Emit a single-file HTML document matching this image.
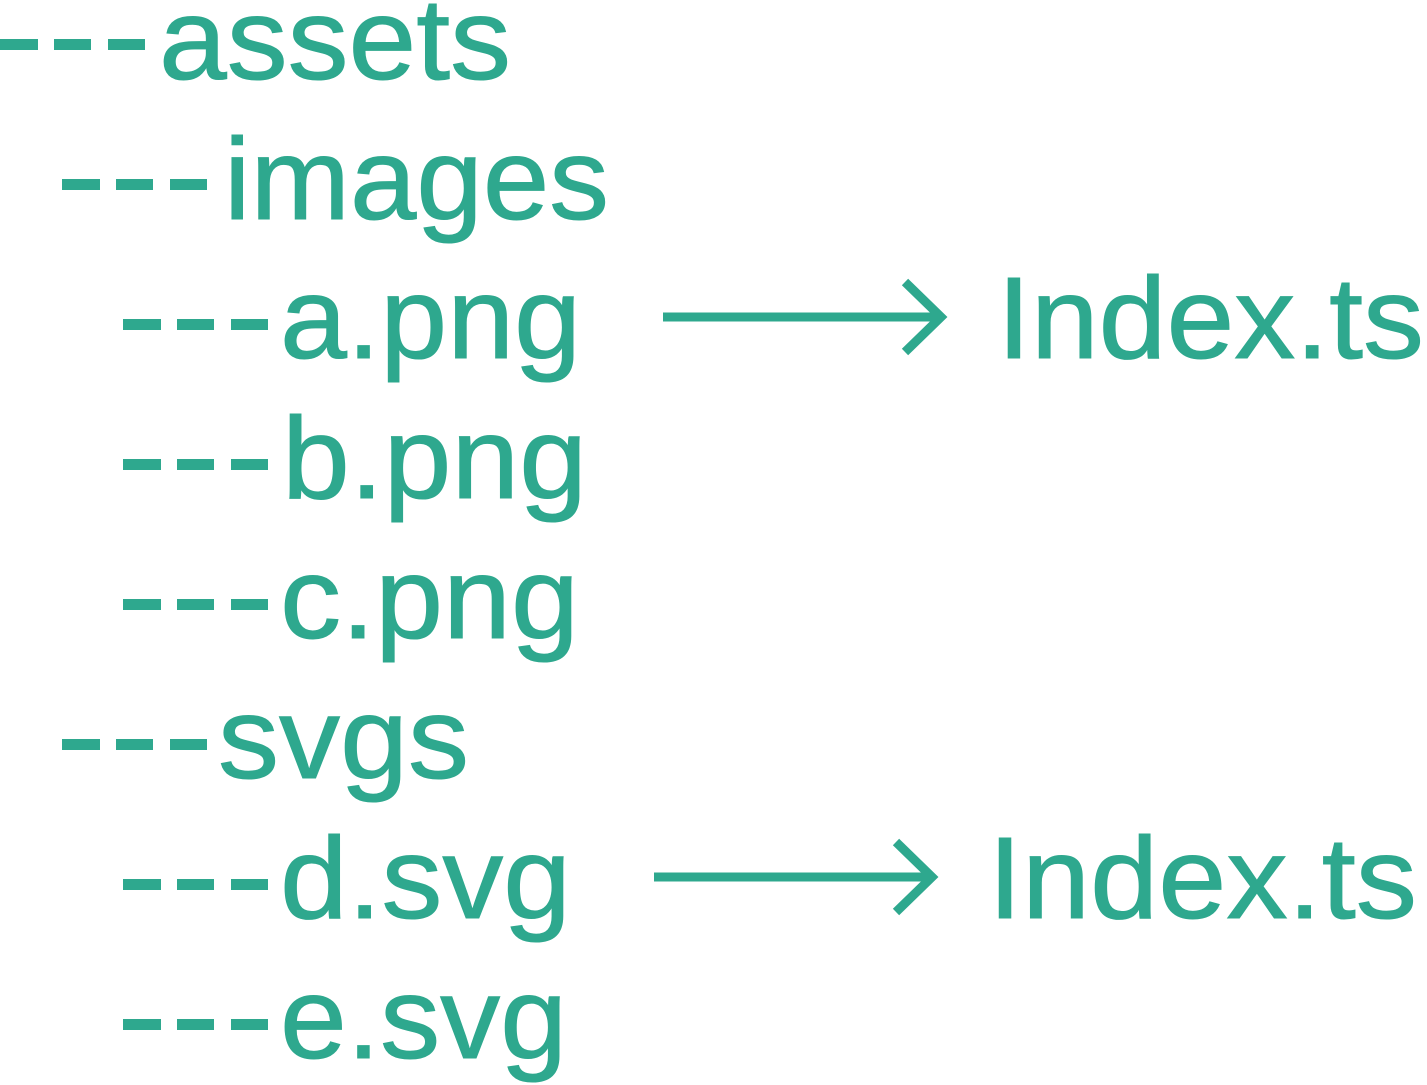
<!DOCTYPE html>
<html><head><meta charset="utf-8"><style>
html,body{margin:0;padding:0;background:#fff;}
svg{display:block}
text{font-family:"Liberation Sans",sans-serif;font-size:116px;fill:#2ea88e;stroke:#2ea88e;stroke-width:1px}
</style></head><body>
<svg width="1427" height="1085" viewBox="0 0 1427 1085" xmlns="http://www.w3.org/2000/svg">
<g fill="#2ea88e">
<rect x="0" y="39" width="38" height="11"/><rect x="54" y="39" width="37" height="11"/><rect x="108" y="39" width="37" height="11"/>
<rect x="62" y="179" width="38" height="11"/><rect x="116" y="179" width="37" height="11"/><rect x="170" y="179" width="37" height="11"/>
<rect x="62" y="739" width="38" height="11"/><rect x="116" y="739" width="37" height="11"/><rect x="170" y="739" width="37" height="11"/>
<g id="d2"><rect x="123" y="319" width="38" height="11"/><rect x="177" y="319" width="37" height="11"/><rect x="231" y="319" width="37" height="11"/></g>
<use href="#d2" y="140"/><use href="#d2" y="280"/><use href="#d2" y="560"/><use href="#d2" y="700"/>
</g>
<text x="159" y="79" textLength="352" lengthAdjust="spacingAndGlyphs">assets</text>
<text x="224" y="219" textLength="385" lengthAdjust="spacingAndGlyphs">images</text>
<text x="280" y="358" textLength="301" lengthAdjust="spacingAndGlyphs">a.png</text>
<text x="282" y="498" textLength="305" lengthAdjust="spacingAndGlyphs">b.png</text>
<text x="280" y="638" textLength="299" lengthAdjust="spacingAndGlyphs">c.png</text>
<text x="218" y="778" textLength="251" lengthAdjust="spacingAndGlyphs">svgs</text>
<text x="280" y="918" textLength="291" lengthAdjust="spacingAndGlyphs">d.svg</text>
<text x="280" y="1058" textLength="287" lengthAdjust="spacingAndGlyphs">e.svg</text>
<text x="997" y="358" textLength="427" lengthAdjust="spacingAndGlyphs">Index.ts</text>
<text x="988" y="918" textLength="429" lengthAdjust="spacingAndGlyphs">Index.ts</text>
<g stroke="#2ea88e" stroke-width="9" fill="none">
<line x1="663" y1="317" x2="942" y2="317"/>
<polyline points="905,282 941,317 905,352"/>
<line x1="654" y1="877" x2="933" y2="877"/>
<polyline points="896,842 932,877 896,912"/>
</g>
</svg>
</body></html>
